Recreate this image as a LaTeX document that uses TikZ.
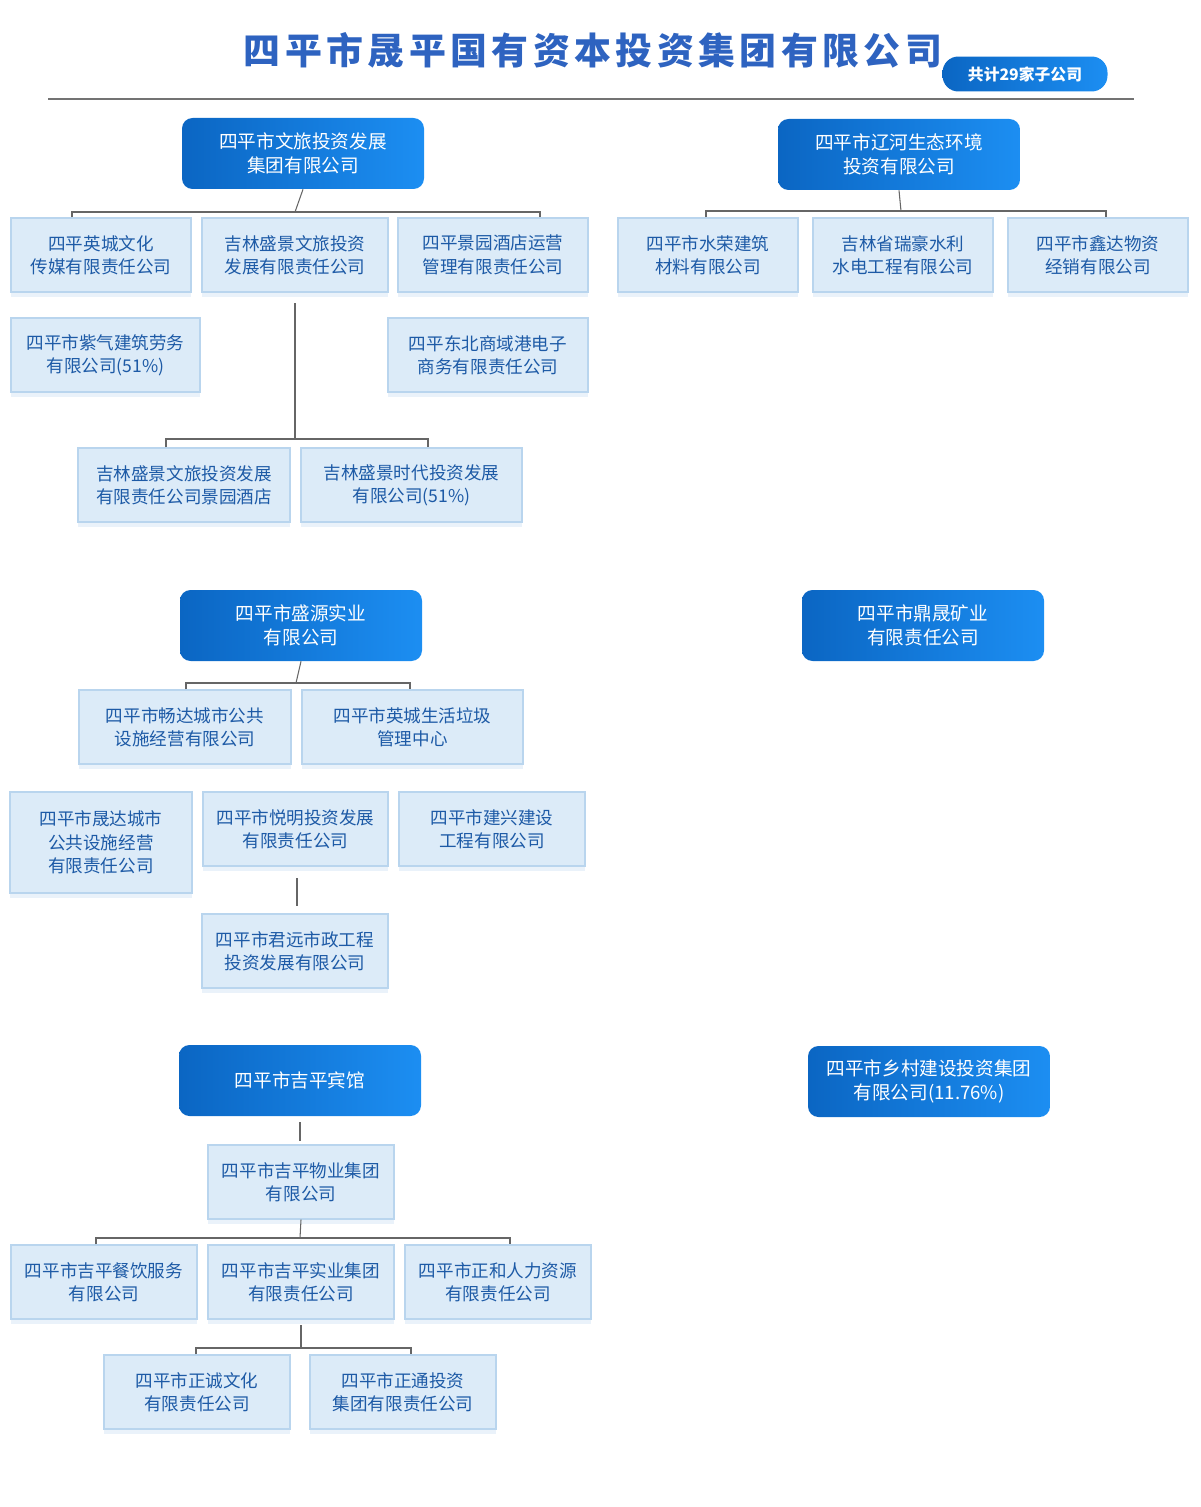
\documentclass[tikz,border=0pt]{standalone}
\usepackage{fontspec}
\setmainfont{Noto Sans CJK SC}
\usetikzlibrary{shadings}
\definecolor{darkA}{HTML}{0B66C3}
\definecolor{darkB}{HTML}{1C8EF2}
\definecolor{lfill}{HTML}{DCEBF8}
\definecolor{ledge}{HTML}{B9D5EE}
\definecolor{ltext}{HTML}{1D5AA6}
\definecolor{titleblue}{HTML}{2E63C0}
\tikzset{
  dbox/.style={rounded corners=6pt, left color=darkA, right color=darkB, draw=none,
    text=white, align=center, font=\fontsize{10.6}{13.5}\selectfont, inner sep=0pt},
  lbox/.style={fill=lfill, draw=ledge, line width=0.8pt, text=ltext, align=center,
    font=\fontsize{10}{13.3}\selectfont, inner sep=0pt,
    drop shadow={shadow xshift=0pt, shadow yshift=-3pt, fill=ledge!60, opacity=0.5}},
  link/.style={draw=black!60, line width=0.6pt},
}
\usetikzlibrary{shadows}
% box from two corners in pixel units
\newcommand{\obox}[7]{%
  \pgfmathsetmacro{\bw}{(#5-#3)*0.02}\pgfmathsetmacro{\bh}{(#6-#4)*0.02}%
  \node[#1, minimum width=\bw cm, minimum height=\bh cm] (#2) at ({(#3+#5)/2},{(#4+#6)/2}) {#7};}
\begin{document}
\begin{tikzpicture}[x=0.02cm,y=-0.02cm]
\useasboundingbox (0,0) rectangle (1200,1507);
% title
\node (title) at (593,50) {\fontsize{21}{21}\selectfont\bfseries\addfontfeature{LetterSpace=12}\color{titleblue}四平市晟平国有资本投资集团有限公司};
\node[rounded corners=9pt, left color=darkA, right color=darkB, text=white, font=\fontsize{9}{9}\selectfont\bfseries,
  minimum width=3.3cm, minimum height=0.7cm, inner sep=0pt] (count) at (1025,74) {共计29家子公司};
\draw[black!55, line width=0.6pt] (48,99) -- (1134,99);
% group A
\obox{dbox}{A}{182}{118}{424}{189}{四平市文旅投资发展\\集团有限公司}
\obox{lbox}{a1}{11}{218}{191}{292}{四平英城文化\\传媒有限责任公司}
\obox{lbox}{a2}{202}{218}{388}{292}{吉林盛景文旅投资\\发展有限责任公司}
\obox{lbox}{a3}{398}{218}{588}{292}{四平景园酒店运营\\管理有限责任公司}
\obox{lbox}{a4}{11}{318}{200}{392}{四平市紫气建筑劳务\\有限公司(51\%)}
\obox{lbox}{a5}{388}{318}{588}{392}{四平东北商域港电子\\商务有限责任公司}
\obox{lbox}{a6}{78}{448}{290}{522}{吉林盛景文旅投资发展\\有限责任公司景园酒店}
\obox{lbox}{a7}{301}{448}{522}{522}{吉林盛景时代投资发展\\有限公司(51\%)}
\coordinate (abar) at (295,212);
\coordinate (a2top) at (295,303);
\coordinate (a2bar) at (295,439);
\draw[link] (A.south) -- (abar);
\draw[link] (a1.north -| 72,0) |- (abar) -| (a3.north -| 540,0);
\draw[link] (a2top) -- (a2bar);
\draw[link] (a6.north -| 166,0) |- (a2bar) -| (a7.north -| 428,0);
% group B
\obox{dbox}{B}{778}{119}{1020}{190}{四平市辽河生态环境\\投资有限公司}
\obox{lbox}{b1}{618}{218}{798}{292}{四平市水荣建筑\\材料有限公司}
\obox{lbox}{b2}{813}{218}{993}{292}{吉林省瑞豪水利\\水电工程有限公司}
\obox{lbox}{b3}{1008}{218}{1188}{292}{四平市鑫达物资\\经销有限公司}
\coordinate (bbar) at (901,211);
\draw[link] (B.south) -- (bbar);
\draw[link] (b1.north -| 706,0) |- (bbar) -| (b3.north -| 1106,0);
% group C
\obox{dbox}{C}{180}{590}{422}{661}{四平市盛源实业\\有限公司}
\obox{lbox}{c1}{79}{690}{291}{764}{四平市畅达城市公共\\设施经营有限公司}
\obox{lbox}{c2}{302}{690}{523}{764}{四平市英城生活垃圾\\管理中心}
\obox{lbox}{c3}{10}{792}{192}{893}{四平市晟达城市\\公共设施经营\\有限责任公司}
\obox{lbox}{c4}{203}{792}{388}{866}{四平市悦明投资发展\\有限责任公司}
\obox{lbox}{c5}{399}{792}{585}{866}{四平市建兴建设\\工程有限公司}
\obox{lbox}{c6}{202}{914}{388}{988}{四平市君远市政工程\\投资发展有限公司}
\coordinate (cbar) at (296,683);
\draw[link] (C.south) -- (cbar);
\draw[link] (c1.north -| 186,0) |- (cbar) -| (c2.north -| 410,0);
\draw[link] (297,878) -- (297,906);
% group D
\obox{dbox}{D}{802}{590}{1044}{661}{四平市鼎晟矿业\\有限责任公司}
% group E
\obox{dbox}{E}{179}{1045}{421}{1116}{四平市吉平宾馆}
\obox{lbox}{e1}{208}{1145}{394}{1219}{四平市吉平物业集团\\有限公司}
\obox{lbox}{e2}{11}{1245}{197}{1319}{四平市吉平餐饮服务\\有限公司}
\obox{lbox}{e3}{208}{1245}{394}{1319}{四平市吉平实业集团\\有限责任公司}
\obox{lbox}{e4}{405}{1245}{591}{1319}{四平市正和人力资源\\有限责任公司}
\obox{lbox}{e5}{104}{1355}{290}{1429}{四平市正诚文化\\有限责任公司}
\obox{lbox}{e6}{310}{1355}{496}{1429}{四平市正通投资\\集团有限责任公司}
\coordinate (ebar) at (300,1238);
\coordinate (e3bar) at (301,1348);
\draw[link] (300,1122) -- (300,1141);
\draw[link] (e1.south) -- (ebar);
\draw[link] (e2.north -| 96,0) |- (ebar) -| (e4.north -| 510,0);
\draw[link] (301,1325) -- (e3bar);
\draw[link] (e5.north -| 196,0) |- (e3bar) -| (e6.north -| 411,0);
% group F
\obox{dbox}{F}{808}{1046}{1050}{1117}{四平市乡村建设投资集团\\有限公司(11.76\%)}
\end{tikzpicture}
\end{document}
